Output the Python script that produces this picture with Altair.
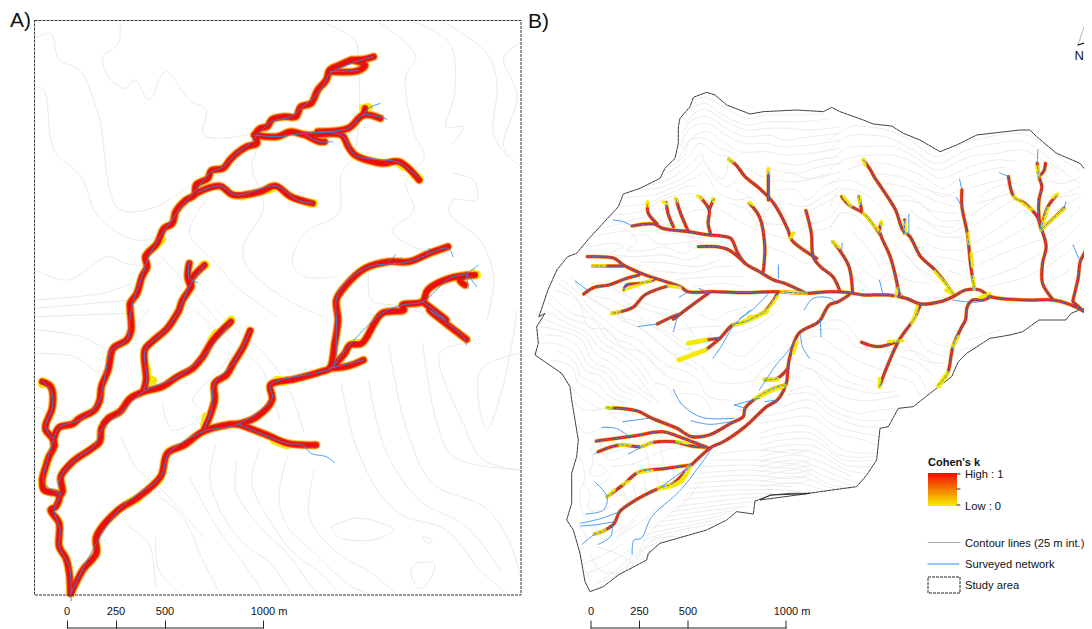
import altair as alt
import pandas as pd

def Z1(p): return [(x / 2.958, y / 3) for x, y in p]
def Z2(p): return [(x / 2.958, 310 + y / 3) for x, y in p]
def Z3(p): return [(530 + x / 2.79, y / 3) for x, y in p]
def Z4(p): return [(530 + x / 2.79, 310 + y / 3) for x, y in p]
def crop(ox, oy): return lambda p: [(ox + x / 3, oy + y / 3) for x, y in p]
R1, R2, R3, R4, R5 = crop(590, 90), crop(830, 120), crop(535, 270), crop(760, 320), crop(560, 440)

# ---------- Panel A: contour lines ----------
a_contours = [
 Z1([(105,115),(150,100),(175,180),(235,210),(290,340),(350,625),(450,625),(570,550)]),
 Z1([(105,260),(130,270),(160,450),(240,530),(290,650),(400,720),(470,710)]),
 Z1([(355,70),(350,130),(305,170),(320,230),(370,265),(400,240),(440,300),(490,215),(560,300),(610,330),(600,400),(640,415),(750,400)]),
 Z1([(950,65),(1050,120),(1060,180),(1060,390),(1040,480),(1010,520),(1000,640),(900,700),(865,790),(900,830),(990,830)]),
 Z1([(1120,65),(1230,170),(1200,230),(1225,400),(1255,470),(1200,550),(1225,630),(1160,695),(1290,760),(1330,740)]),
 Z1([(1220,65),(1330,130),(1345,280),(1320,380),(1370,380),(1340,430)]),
 Z1([(1310,65),(1440,160),(1470,250),(1460,400),(1500,470)]),
 Z1([(1540,130),(1490,170),(1530,290),(1490,440),(1540,500)]),
 Z1([(1340,520),(1400,540),(1410,600),(1340,600),(1330,640),(1420,720),(1460,830),(1440,960)]),
 Z1([(770,430),(745,500),(780,620),(720,740),(730,800),(850,900),(960,950)]),
 Z1([(610,600),(560,700),(640,790),(700,860),(820,950)]),
 Z1([(105,810),(200,840),(320,770),(370,790),(450,800)]),
 Z1([(105,900),(300,880),(390,850)]),
 Z1([(105,925),(390,900)]),
 Z1([(105,950),(380,940)]),
 Z1([(470,760),(530,830),(590,900),(640,960)]),
 Z1([(1090,820),(1100,900),(1200,920),(1290,960)]),
 Z2([(105,60),(240,80),(330,130)]),
 Z2([(105,130),(220,140),(290,185),(320,170)]),
 Z2([(105,290),(130,300),(140,330)]),
 Z2([(440,0),(410,40),(400,100)]),
 Z2([(580,0),(640,60),(700,110),(770,170),(800,250),(830,330)]),
 Z2([(640,0),(700,60),(790,140),(860,250),(900,370)]),
 Z2([(480,280),(510,360),(600,310),(570,270),(640,190),(690,130)]),
 Z2([(360,380),(400,470),(480,540),(600,680)]),
 Z2([(640,400),(620,500),(650,600),(720,700),(800,760),(860,850)]),
 Z2([(700,450),(700,550),(770,650),(850,730),(900,800),(940,850)]),
 Z2([(770,410),(745,520),(810,650),(860,720),(960,800),(1000,850)]),
 Z2([(850,440),(825,560),(850,650),(920,720),(1040,830),(1090,850)]),
 Z2([(930,480),(915,620),(1000,730),(1100,790),(1170,850)]),
 Z2([(470,560),(540,620),(600,750),(650,850)]),
 Z2([(560,500),(640,650),(720,760),(780,850)]),
 Z2([(460,680),(470,780),(530,850)]),
 Z2([(380,650),(440,700),(460,830)]),
 Z2([(1010,220),(1050,400),(1130,560),(1200,620),(1320,660),(1420,780),(1500,850)]),
 Z2([(1090,210),(1140,420),(1240,570),(1380,650),(1480,780)]),
 Z2([(1150,100),(1200,350),(1280,520),(1430,590),(1500,680),(1540,800)]),
 Z2([(1250,100),(1290,330),(1340,440),(1540,480)]),
 Z2([(1380,100),(1300,130),(1370,340),(1430,450),(1540,480)]),
 Z2([(1540,130),(1420,180),(1440,360),(1490,220),(1530,0)]),
 Z2([(980,650),(1050,625),(1130,640),(1165,660),(1100,690),(1000,680),(980,650)]),
 Z2([(1230,760),(1285,760),(1265,820),(1240,835),(1215,790),(1230,760)]),
 Z2([(1250,680),(1280,690),(1265,700),(1250,680)]),
]

# ---------- Panel A: modelled channels ----------
a_streams = [
 Z1([(1105,170),(1075,178),(1040,180),(1005,195),(975,210),(965,240),(940,270),(920,310),(890,320),(875,350),(840,350),(805,358),(790,380),(770,385),(755,405),(760,430),(730,440),(700,460),(680,480),(660,505),(625,512),(615,535),(580,555),(575,585),(550,600),(520,635),(510,670),(485,685),(465,730),(430,770),(435,800),(420,830),(405,880),(385,910)])
 + Z2([(385,0),(388,60),(375,90),(335,115),(320,180),(300,230),(295,270),(280,300),(235,325),(215,342),(175,352),(160,385),(160,410),(145,440),(135,470),(125,510),(130,540),(175,555),(165,590),(150,600),(175,640),(175,710),(195,745),(205,790),(208,850)]),
 Z2([(125,215),(150,230),(155,290),(135,345),(135,360),(155,385),(160,405)]),
 Z2([(683,35),(630,90),(600,140),(570,175),(525,200),(480,230),(425,245),(385,265),(355,305),(320,325),(300,355),(295,395),(265,420),(215,455),(180,500),(185,545),(175,560)]),
 Z1([(605,795),(565,840),(565,860),(540,900),(530,930)]) + Z2([(530,0),(495,55),(450,95),(428,120),(432,210),(425,240)]),
 Z1([(560,790),(555,830),(565,860)]),
 Z2([(740,62),(720,110),(690,160),(670,195),(635,220),(635,270),(620,320),(605,355)]),
 Z2([(210,850),(245,780),(285,730),(285,680),(350,600),(405,565),(475,500),(495,430),(545,405),(600,365),(680,343),(705,342),(760,320),(805,270),(800,225),(870,208),(950,185),(975,175),(990,100),(1000,30)])
 + Z1([(995,900),(1020,860),(1080,805),(1150,785),(1210,785),(1270,760),(1325,740)]),
 Z2([(975,175),(1030,168),(1075,150)]),
 Z2([(985,170),(1020,130),(1035,105),(1070,100),(1130,10),(1195,0)]) + Z1([(1190,915),(1250,905),(1265,870),(1330,835),(1405,825)]),
 Z1([(1250,905),(1320,960)]) + Z2([(1270,0),(1380,88)]),
 Z1([(1380,825),(1360,840),(1375,855)]),
 Z2([(705,342),(790,375),(850,400),(935,405)]),
 Z1([(752,405),(820,410),(860,395),(905,405),(1010,405),(1030,440),(1050,465),(1130,490),(1180,485),(1240,540)]),
 Z1([(905,405),(945,425),(960,425)]),
 Z1([(940,395),(1030,385),(1075,345),(1125,355)]),
 Z1([(1075,345),(1080,325)]),
 Z1([(975,215),(1060,212),(1080,195),(1040,180)]),
 Z1([(583,578),(650,558),(690,585),(770,575),(815,558),(860,590),(925,610)]),
]
a_yellow = [
 Z1([(478,718),(460,738)]), Z1([(1175,485),(1195,500)]), Z1([(1225,525),(1240,535)]), Z1([(915,610),(928,610)]),
 Z1([(600,795),(608,795)]), Z1([(790,570),(810,562)]), Z1([(690,585),(720,588)]), Z2([(683,30),(675,40)]),
 Z2([(640,70),(625,92)]), Z2([(432,170),(436,205)]), Z2([(440,210),(452,212)]), Z2([(138,455),(132,485)]), Z2([(125,520),(132,540)]),
 Z2([(475,500),(465,515)]), Z2([(385,575),(405,568)]), Z2([(610,320),(605,345)]), Z2([(1045,100),(1060,100)]), Z2([(820,210),(840,215)]),
 Z2([(810,390),(850,405)]), Z1([(1075,325),(1090,322)]), Z1([(1400,820),(1410,825)]), Z2([(130,215),(125,222)]),
]
a_blue = [
 Z1([(1105,170),(1040,190),(975,222),(960,250),(930,290),(890,325),(860,350),(805,365),(770,395),(740,430),(700,460),(660,500),(620,520),(580,570),(545,610),(515,650),(480,700),(440,770),(420,830),(395,900)])
 + Z2([(385,20),(375,90),(330,120),(310,200),(290,280),(235,330),(175,352),(155,400),(140,450),(130,520),(175,555),(160,600),(178,660),(175,710),(205,770),(210,875)]),
 Z2([(125,215),(150,240),(155,290),(135,350),(155,385)]),
 Z2([(683,35),(600,140),(525,200),(425,245),(355,310),(300,360),(280,405),(215,455),(175,510),(180,555)]),
 Z1([(560,785),(560,835),(585,848)]), Z1([(605,795),(565,850),(530,930)]) + Z2([(530,0),(495,55),(430,120),(435,210),(425,240)]),
 Z2([(740,62),(690,160),(635,220),(625,300),(605,355)]),
 Z2([(210,850),(285,700),(360,590),(475,500),(500,430),(600,365),(705,342),(805,265),(800,225),(950,185),(985,170),(995,50)]) + Z1([(1000,880),(1080,805),(1210,785),(1325,745),(1340,770)]),
 Z2([(975,175),(1075,150)]), Z2([(985,170),(1030,110),(1130,10)]) + Z1([(1190,915),(1250,905),(1330,835),(1380,820),(1415,795)]),
 Z1([(1380,820),(1410,860)]), Z1([(1380,825),(1385,865)]), Z1([(1270,745),(1265,760)]), Z1([(1170,765),(1150,785)]),
 Z1([(1250,905),(1320,960)]) + Z2([(1270,0),(1370,80),(1380,105)]),
 Z2([(705,342),(850,400),(895,405),(920,430),(965,440),(990,458)]),
 Z1([(752,405),(820,410),(905,400),(1010,405),(1050,465),(1180,488),(1240,535)]),
 Z1([(905,405),(945,425),(985,425)]),
 Z1([(940,395),(1030,385),(1075,345),(1145,358)]), Z1([(1075,345),(1090,325),(1125,310)]), Z1([(975,215),(1060,212)]),
 Z1([(583,578),(650,558),(700,585),(815,558),(880,600),(925,610)]),
]

# ---------- Panel B: study area outline ----------
b_outline = (
 Z3([(25,950),(50,870),(75,810),(105,770),(130,760),(165,715)])
 + R1([(85,350),(100,312),(150,295),(210,265),(225,235),(255,205),(265,160),(265,110),(270,85),(300,50),(310,22),(350,7),(375,15),(410,45),(480,72),(520,65),(620,60),(700,65),(725,52),(750,65)])
 + R2([(100,0),(130,12),(185,18),(220,40),(270,60),(330,95),(380,75),(440,45),(570,30),(600,30),(620,50),(680,100),(750,130),(790,180)])
)
b_outline2 = (
 Z4([(1600,-30),(1510,10),(1495,30),(1420,30),(1375,65)])
 + R4([(750,45),(690,55),(620,100),(595,125),(575,170),(510,220),(460,260),(415,265),(385,320),(360,325),(350,420),(320,465),(290,500),(130,522),(30,525),(0,540)])
 + R5([(750,160),(690,160),(635,165),(585,183),(580,222),(530,215),(500,240),(440,270),(300,310),(265,340),(260,360),(175,405),(130,440),(90,455),(75,425),(60,340),(40,270),(20,240),(35,190),(35,100),(50,50),(55,0)])
 + R3([(110,390),(105,350),(80,310),(0,255),(10,220),(5,170),(30,130)])
 + Z3([(25,950)])
)

# ---------- Panel B: contour lines ----------
b_contours = [
 R1([(310,30),(345,22),(400,50),(470,85),(530,75),(620,75),(700,72)]),
 R1([(295,60),(345,40),(390,70),(470,105),(530,95),(640,95),(720,85)]),
 R1([(285,100),(320,65),(350,60),(410,95),(470,120),(530,115),(590,115),(660,120),(750,110)]),
 R1([(275,130),(305,90),(350,80),(410,115),(465,140),(540,135),(580,150),(660,140),(750,130)]),
 R1([(272,170),(295,120),(350,100),(400,130),(460,160),(530,160),(570,170),(660,165),(750,150)]),
 R1([(265,210),(290,160),(345,125),(400,155),(450,185),(530,185),(580,195),(660,190),(750,175)]),
 R1([(240,230),(280,200),(300,150),(340,145),(385,170),(430,190)]),
 R1([(210,265),(260,230),(295,200),(330,160),(375,190),(420,200)]),
 R1([(180,285),(240,265),(300,225),(335,190),(345,220),(400,265),(415,215)]),
 R1([(150,300),(220,290),(310,245),(340,215),(370,260),(410,290),(440,270)]),
 R1([(110,320),(190,315),(310,265),(345,250),(380,305),(440,330),(480,320)]),
 R1([(90,350),(170,340),(290,290),(320,290)]),
 R1([(60,375),(150,365),(240,320),(310,310)]),
 R1([(20,420),(110,395),(170,380)]),
 R1([(560,215),(620,225),(680,210),(750,200)]),
 R1([(550,240),(620,250),(690,230),(750,220)]),
 R1([(560,270),(610,275),(700,260),(750,245)]),
 R1([(560,300),(620,300),(650,330),(700,290),(750,265)]),
 R1([(590,340),(640,350),(700,320),(750,290)]),
 R1([(620,390),(650,370),(700,340),(750,315)]),
 R1([(610,430),(650,410),(720,380),(750,340)]),
 R1([(680,420),(720,410),(750,370)]),
 R1([(440,300),(500,340),(480,370),(530,380)]),
 R1([(420,340),(470,360),(510,410),(525,350)]),
 R1([(380,350),(440,390),(500,420)]),
 R1([(290,370),(340,360),(355,410)]),
 R1([(530,400),(590,400),(560,340),(530,360)]),
 R1([(530,430),(600,450),(640,470)]),
 R1([(530,470),(590,490),(650,520),(670,490)]),
 R1([(10,440),(60,430),(120,425),(140,460),(110,480),(180,480),(220,470),(280,490),(320,470)]),
 R1([(0,470),(70,460),(100,470),(60,490),(130,500),(220,495),(300,510),(340,490)]),
 R1([(120,440),(170,435),(200,460),(260,460),(330,450)]),
 R1([(200,430),(250,430),(320,445)]),
 R1([(150,515),(240,520),(320,530),(390,510)]),
 R1([(190,540),(290,550),(390,530),(430,530)]),
 R1([(250,570),(370,560),(460,560)]),
 R1([(310,590),(400,580),(460,590)]),
 R1([(470,230),(520,260),(540,240)]),
 R1([(590,240),(650,265),(720,250)]),
 R2([(0,60),(60,20),(110,20),(170,30),(240,60),(320,110),(400,70),(480,50),(570,40),(620,60),(700,120),(750,150)]),
 R2([(0,90),(50,50),(120,45),(180,55),(250,90),(320,130),(410,90),(500,70),(580,65),(640,100),(700,150)]),
 R2([(0,120),(50,85),(120,80),(190,80),(260,115),(320,150),(420,110),(500,100),(580,90),(630,115),(690,170)]),
 R2([(0,150),(40,120),(130,105),(210,110),(270,140),(330,175),(420,140),(500,120),(560,125)]),
 R2([(50,150),(110,130),(160,130),(220,145),(280,170),(340,205),(390,170)]),
 R2([(130,160),(210,170),(280,200),(340,230),(400,200)]),
 R2([(0,190),(60,180),(95,195),(130,210)]),
 R2([(170,190),(240,205),(310,240),(375,260)]),
 R2([(180,230),(240,230),(300,270),(380,280)]),
 R2([(0,260),(30,210),(90,215),(150,260),(180,300),(220,270)]),
 R2([(0,330),(30,280),(80,290),(130,340),(150,300)]),
 R2([(240,270),(300,310),(370,320),(390,300)]),
 R2([(260,320),(330,350),(400,350)]),
 R2([(290,370),(340,390),(400,390)]),
 R2([(320,410),(380,420),(410,430)]),
 R2([(350,450),(410,470)]),
 R2([(190,370),(230,410),(290,470),(330,490)]),
 R2([(170,400),(210,470),(300,490)]),
 R2([(60,400),(90,440),(150,480),(170,460),(190,480)]),
 R2([(70,470),(120,510)]),
 R2([(430,280),(490,240),(540,190)]),
 R2([(430,320),(500,270),(550,240)]),
 R2([(430,370),(510,320),(580,270)]),
 R2([(430,400),(500,370),(610,310)]),
 R2([(440,440),(520,400),(630,360)]),
 R2([(450,480),(540,450),(630,400)]),
 R2([(470,500),(560,480),(630,450)]),
 R2([(410,170),(470,150),(530,140)]),
 R2([(400,210),(470,190),(545,170)]),
 R2([(650,340),(700,310),(750,260)]),
 R2([(650,390),(700,360),(750,310)]),
 R2([(650,440),(720,390),(750,360)]),
 R2([(650,490),(720,450)]),
 R2([(640,180),(700,190),(750,170)]),
 R2([(660,130),(720,170),(750,190)]),
 R2([(690,230),(750,200)]),
 R2([(450,230),(500,200),(560,190)]),
 R2([(440,250),(510,230),(560,210)]),
 R2([(640,230),(700,230),(750,220)]),
 R2([(640,290),(700,260),(750,230)]),
 R2([(250,200),(310,215),(370,230)]),
 R2([(210,240),(270,250),(330,300),(390,300)]),
 R2([(280,300),(350,340),(400,320)]),
 R2([(240,350),(290,400),(340,440)]),
 R2([(220,390),(260,440),(310,470)]),
 R2([(60,330),(110,380),(150,440)]),
 R3([(60,60),(130,95),(160,170),(220,180),(260,230),(330,250),(370,300),(420,330),(470,340)]),
 R3([(55,80),(110,130),(175,150),(215,205),(270,240),(310,270),(350,330)]),
 R3([(30,120),(95,160),(160,190),(190,230),(240,260),(290,300),(330,350),(360,385)]),
 R3([(15,170),(70,180),(140,210),(170,270),(225,300),(260,340),(310,370),(350,400)]),
 R3([(10,220),(60,220),(120,250),(150,300),(200,320),(240,370),(290,390)]),
 R3([(50,270),(110,290),(130,340),(170,360),(210,390),(260,415)]),
 R3([(90,330),(115,360),(150,390),(200,420)]),
 R3([(110,390),(150,420),(210,415)]),
 R3([(130,460),(150,490),(210,470)]),
 R3([(80,30),(120,60),(170,120),(210,150),(260,190),(310,210),(360,260),(410,290)]),
 R3([(110,20),(150,70),(210,110),(260,150),(310,170),(370,220),(410,250),(460,290)]),
 R3([(180,80),(230,90),(300,130),(340,160),(400,200),(440,230),(500,250)]),
 R3([(260,90),(310,110),(370,130),(440,150),(480,200),(500,220)]),
 R3([(230,130),(290,150),(360,170),(420,200),(470,240)]),
 R3([(420,250),(470,270),(510,300),(530,330),(600,340),(660,330)]),
 R3([(390,290),(440,300),(490,330),(520,380),(590,390)]),
 R3([(360,340),(400,350),(420,390),(470,420)]),
 R3([(440,370),(500,380),(530,420)]),
 R3([(490,130),(540,150),(570,130),(640,110)]),
 R3([(430,180),(500,170),(580,170)]),
 R3([(530,190),(490,220),(450,240)]),
 R3([(550,270),(600,300),(660,280),(720,220)]),
 R3([(560,230),(620,260),(680,210),(740,160)]),
 R3([(600,190),(660,170),(720,130)]),
 R3([(650,350),(680,300),(740,260)]),
 R3([(600,420),(660,420)]),
 R3([(230,440),(290,470)]),
 R3([(200,555),(290,530)]),
 R3([(230,590),(300,580),(390,540),(470,530)]),
 R3([(70,40),(120,80),(160,130),(200,165),(240,205),(290,225),(340,270),(390,310)]),
 R3([(40,100),(100,145),(165,170),(200,215),(255,250),(300,285),(340,340)]),
 R3([(20,145),(85,170),(150,200),(180,250),(230,280),(275,320),(320,360),(370,395)]),
 R3([(30,195),(80,200),(130,230),(160,285),(215,310),(250,355),(300,380)]),
 R3([(70,245),(115,270),(140,320),(185,340),(225,380),(275,400)]),
 R3([(120,40),(170,90),(235,125),(285,160),(340,190),(390,235),(440,270),(490,300)]),
 R3([(200,40),(260,70),(330,100),(400,120),(460,140)]),
 R4([(130,60),(180,50),(230,85),(290,120),(340,140),(370,150)]),
 R4([(150,95),(210,110),(270,160),(340,185)]),
 R4([(100,130),(160,150),(220,190),(290,210),(330,220),(400,215)]),
 R4([(85,180),(150,145),(215,215),(290,240),(350,240),(420,225)]),
 R4([(90,215),(150,200),(215,250),(290,280),(360,270),(430,265)]),
 R4([(70,260),(150,240),(220,290),(310,320),(360,320)]),
 R4([(0,310),(60,300),(150,290),(230,340),(310,360),(355,380)]),
 R4([(0,340),(70,320),(150,320),(250,390),(350,400)]),
 R4([(0,375),(70,360),(160,360),(250,420),(340,420)]),
 R4([(0,410),(100,390),(170,400),(260,450),(320,460)]),
 R4([(0,440),(110,420),(190,450),(290,490)]),
 R4([(0,470),(120,450),(200,490),(270,505)]),
 R4([(0,500),(120,490),(200,515)]),
 R4([(170,30),(240,30),(290,80),(330,90)]),
 R4([(190,10),(240,0),(300,60),(320,70)]),
 R4([(420,110),(480,130),(520,170)]),
 R4([(410,130),(470,160),(500,210)]),
 R4([(400,170),(460,190),(480,230)]),
 R4([(460,30),(500,90),(560,110)]),
 R4([(440,70),(490,120),(550,130)]),
 R4([(620,60),(660,50),(720,30)]),
 R4([(600,90),(650,80)]),
 R4([(120,100),(185,130),(245,175),(310,200)]),
 R4([(60,230),(150,220),(215,270),(300,300),(380,300)]),
 R4([(0,290),(60,280),(150,265),(220,315),(310,340),(365,350)]),
 R4([(0,355),(70,340),(155,340),(240,405),(345,410)]),
 R4([(0,390),(85,375),(165,380),(255,435),(330,440)]),
 R4([(0,425),(105,405),(180,425),(275,470)]),
 R4([(0,455),(115,435),(195,470),(280,498)]),
 R4([(0,485),(120,470),(200,500),(240,510)]),
 R4([(510,60),(560,80),(590,60)]),
 R4([(430,90),(480,100),(530,140)]),
 R5([(60,50),(75,110),(60,160),(70,220),(90,240)]),
 R5([(90,20),(100,60),(90,100),(110,110),(140,90),(110,70)]),
 R5([(120,0),(130,40),(150,60),(190,50)]),
 R5([(60,260),(80,300),(60,340),(90,420)]),
 R5([(90,340),(120,390),(170,400)]),
 R5([(80,400),(130,380),(210,330)]),
 R5([(110,320),(170,340),(220,370)]),
 R5([(150,320),(190,280),(250,240),(310,190)]),
 R5([(170,290),(230,240)]),
 R5([(480,40),(600,30),(700,40),(750,30)]),
 R5([(450,60),(580,60),(700,70),(750,60)]),
 R5([(420,100),(560,90),(700,100),(750,90)]),
 R5([(400,130),(560,120),(700,130),(750,120)]),
 R5([(380,160),(530,150),(680,150),(720,155)]),
 R5([(350,200),(500,180),(610,170)]),
 R5([(320,230),(460,210),(560,200)]),
 R5([(280,260),(420,240),(510,220)]),
 R5([(250,300),(360,270),(470,250)]),
 R5([(230,360),(280,300),(380,290)]),
 R5([(170,400),(230,350),(260,290),(320,230),(380,180),(420,130)]),
 R5([(250,110),(260,160)]), R5([(290,100),(300,150)]), R5([(340,90),(340,130)]), R5([(220,130),(230,180)]), R5([(190,150),(200,190)]),
 R5([(250,10),(265,60),(270,90)]), R5([(300,10),(310,60),(320,90)]),
 R5([(70,130),(90,160),(85,210),(120,210)]),
 R5([(100,140),(130,130),(150,110)]),
 R5([(130,210),(170,190)]),
 R5([(130,300),(180,270),(240,220)]),
 R5([(70,370),(120,350),(190,310)]),
 R5([(110,430),(160,410),(240,360),(300,320)]),
 R5([(130,420),(180,380),(230,340),(350,280)]),
 R5([(430,80),(570,75),(700,85),(750,75)]),
 R5([(410,115),(560,105),(700,115),(750,105)]),
 R5([(390,145),(540,135),(690,140)]),
 R5([(365,180),(510,165),(640,160)]),
 R5([(335,215),(480,195),(590,185)]),
 R5([(300,245),(440,225),(530,210)]),
 R5([(265,280),(390,255),(490,235)]),
]

# ---------- Panel B: modelled channels ----------
b_streams = [
 Z3([(1555,940),(1510,915),(1460,900),(1385,900),(1285,890),(1255,870),(1215,870),(1180,890),(1145,905),(1090,912),(1050,895),(1000,885),(930,885),(890,878),(840,875),(770,880),(690,875),(600,878),(510,875),(440,875),(420,860),(340,832),(310,820),(260,795),(235,775),(160,770)]),
 Z3([(305,825),(270,835),(220,855),(180,862),(150,882)]),
 Z3([(260,798),(175,798)]),
 Z3([(345,840),(310,850),(270,855),(262,870)]),
 Z3([(385,858),(320,885),(290,920),(270,930),(230,940)]),
 Z3([(770,880),(710,850),(680,840),(640,815),(600,790),(580,760),(560,715),(535,708),(500,705),(440,695),(370,685),(345,672),(285,678)]),
 Z3([(355,672),(330,640),(328,610)]),
 Z3([(400,680),(385,640),(380,607)]),
 Z3([(440,690),(420,640),(408,598)]),
 Z3([(505,705),(497,670),(500,630),(475,592)]),
 Z3([(500,630),(512,598)]),
 Z3([(600,790),(555,750),(520,740),(470,740)]),
 Z3([(650,820),(655,740),(640,650),(612,610)]),
 Z3([(800,775),(730,720),(720,690),(680,610),(640,565),(600,530),(575,495),(555,478)]),
 Z3([(665,600),(665,510)]),
 Z3([(865,875),(845,830),(810,800),(790,770),(785,700),(770,632)]),
 Z3([(900,878),(890,800),(860,745),(845,725)]),
 Z3([(1030,885),(1020,830),(1005,770),(980,710),(975,690),(980,670)]),
 Z3([(975,700),(930,640),(890,615),(870,590)]),
 Z3([(925,630),(918,590)]),
 Z3([(1180,880),(1130,810),(1090,770),(1060,710),(1040,690),(1020,630),(985,570),(960,530),(950,510),(930,480)]),
 Z3([(1045,700),(1045,660)]),
 Z3([(1240,865),(1230,800),(1220,700),(1205,620),(1205,570)]),
 Z3([(1460,900),(1430,850),(1430,790),(1440,740),(1425,680),(1415,650),(1380,610),(1350,590),(1335,530)]),
 Z3([(1425,685),(1420,650),(1420,600),(1428,560),(1420,530),(1415,490)]),
 Z3([(1420,530),(1435,510),(1438,490)]),
 Z3([(1425,690),(1445,620),(1470,585)]),
 Z3([(1430,685),(1490,625)]),
 Z3([(1515,900),(1530,830),(1535,785),(1550,750),(1560,640)]),
 Z3([(1550,745),(1568,710)]),
 Z3([(1515,905),(1540,930)]),
 Z3([(1090,912),(1070,960)]) + Z4([(1060,45),(1030,90),(1000,160),(975,230)]),
 Z4([(1030,92),(970,110),(925,97)]),
 Z3([(1285,890),(1265,900),(1235,900),(1220,920),(1215,960)]) + Z4([(1205,50),(1180,110),(1165,190),(1140,225)]),
 Z3([(890,885),(860,905),(835,915),(810,960)]) + Z4([(800,40),(750,70),(725,140),(720,170),(715,220),(690,270),(660,290),(600,350),(540,395),(505,412),(490,425),(450,465),(400,520),(360,535),(280,580),(250,605),(235,640),(210,660),(180,672)]),
 Z4([(720,175),(690,205),(655,210)]),
 Z4([(710,225),(680,235),(630,265),(600,295),(595,320),(560,340),(500,375),(450,380),(410,355),(340,325),(300,303),(215,293)]),
 Z4([(490,410),(440,390),(410,378),(370,365),(290,378),(185,393)]),
 Z4([(495,412),(450,408),(400,395),(340,398),(310,410),(250,405),(190,425)]),
 Z4([(450,465),(380,475),(300,488),(265,520),(215,560)]),
 Z3([(500,878),(440,925),(400,958)]) + Z4([(420,10),(355,42)]),
 Z3([(690,880),(680,900),(655,935)]) + Z4([(655,5),(600,35),(565,45),(530,85),(490,120)]),
 Z4([(530,85),(490,90)]),
]
b_yellow = [
 Z3([(555,478),(565,485)]), Z3([(665,505),(665,520)]), Z3([(328,605),(328,618)]), Z3([(372,606),(382,612)]), Z3([(405,595),(410,603)]),
 Z3([(468,588),(478,596)]), Z3([(510,596),(512,604)]), Z3([(612,608),(620,614)]), Z3([(875,590),(895,618)]), Z3([(920,590),(920,612)]),
 Z3([(930,640),(975,695)]), Z3([(980,665),(980,675)]), Z3([(930,478),(935,495)]), Z3([(845,725),(862,742)]), Z3([(1045,665),(1048,700)]),
 Z3([(1130,815),(1180,878)]), Z3([(1230,760),(1235,800)]), Z3([(1236,830),(1240,868)]), Z3([(1222,700),(1225,730)]), Z3([(1425,690),(1445,625)]),
 Z3([(1430,685),(1490,628)]), Z3([(1460,592),(1472,582)]), Z3([(1555,700),(1550,750)]), Z3([(1415,500),(1420,530)]), Z3([(1350,590),(1400,630)]),
 Z3([(262,870),(340,840)]), Z3([(175,798),(210,797)]), Z3([(385,858),(420,862)]), Z3([(227,942),(250,934)]), Z3([(700,875),(770,880)]),
 Z3([(1020,890),(1025,865)]), Z3([(1255,892),(1282,880)]), Z3([(1160,870),(1175,880)]), Z3([(1080,920),(1072,960)]),
 Z3([(690,890),(650,940),(610,950)]), Z3([(725,715),(735,700)]),
 Z4([(1080,0),(1065,40)]), Z4([(1040,92),(1000,95)]), Z4([(975,205),(975,232)]),
 Z4([(1180,110),(1195,80)]), Z4([(735,130),(745,95)]),
 Z4([(215,560),(235,540)]), Z4([(260,522),(275,515)]),
 Z4([(300,488),(340,482)]), Z4([(440,400),(410,395)]), Z4([(340,398),(310,410)]), Z4([(250,405),(280,405)]), Z4([(210,660),(180,672)]), Z4([(228,292),(214,292)]),
]
b_yellow_wide = [
 Z4([(1165,190),(1140,228)]), Z4([(660,5),(610,30),(570,45)]), Z4([(490,120),(415,150)]), Z4([(490,90),(442,100)]),
 Z4([(655,208),(690,208)]), Z4([(710,228),(680,238),(630,265)]), Z4([(445,470),(420,515),(360,535)]),
]
b_blue_only = [
 Z3([(435,880),(415,892)]), Z3([(500,878),(470,865)]), Z3([(160,870),(125,842)]), Z3([(285,678),(260,665),(232,660)]), Z3([(270,855),(258,875)]),
 Z3([(665,880),(620,930),(585,955)]), Z3([(985,885),(975,840)]), Z3([(1045,892),(1020,860)]), Z3([(850,905),(840,895),(790,895),(765,930)]),
 Z3([(693,835),(693,795)]), Z3([(870,750),(871,730)]), Z3([(1057,700),(1057,640)]), Z3([(1205,570),(1198,535)]), Z3([(1205,620),(1190,592)]),
 Z3([(1335,530),(1310,518)]), Z3([(1415,490),(1417,450)]), Z3([(1490,625),(1495,605)]), Z3([(1535,785),(1515,735)]),
 Z3([(918,590),(918,585)]), Z3([(1180,900),(1255,905),(1282,885)]),
 Z4([(615,0),(570,45),(530,115),(510,145)]), Z4([(810,30),(812,80)]), Z4([(740,90),(715,130),(690,160),(640,240)]), Z4([(755,75),(760,110),(780,145)]),
 Z4([(400,238),(425,285),(480,322),(570,325)]), Z4([(600,295),(570,285)]), Z4([(450,332),(500,343),(560,335)]), Z4([(330,325),(260,335)]),
 Z4([(200,352),(240,355),(275,378)]), Z4([(510,412),(420,540),(340,620),(310,685),(290,690),(285,735)]), Z4([(450,465),(360,535)]),
 Z4([(180,515),(215,560),(205,600),(155,612)]), Z4([(250,605),(200,625),(140,640)]), Z4([(235,635),(180,645),(140,648)]), Z4([(230,645),(225,680),(190,703)]),
 Z4([(180,672),(145,703)]), Z4([(690,270),(655,275)]), Z4([(640,265),(570,285)]), Z4([(355,42),(300,50)]), Z4([(410,25),(400,65)]), Z4([(185,393),(182,398)]), Z4([(190,425),(180,432)]), Z4([(310,412),(275,432)]),
]

# ---------- Scale bars ----------
scale_a_x = [67.5, 116.5, 165.5, 263.5]
scale_b_x = [591, 639.5, 688, 786]
scale_labels = ["0", "250", "500", "1000 m"]
scale_label_x_a = [67, 116, 165, 269]
scale_label_x_b = [591, 639.5, 688, 792]
scale_top, scale_base, scale_label_y = 621, 628, 615

# ---------- Frame, legend, panel letters ----------
frame_a = dict(x=34.5, x2=521, y=20.5, y2=595)
legend_ramp = dict(x=928, x2=957, y=473, y2=506)
ramp_ticks_y = [474, 489, 505]
study_box = dict(x=928, x2=960, y=577, y2=593)
legend_texts = [
 ("High : 1", 965, 478), ("Low : 0", 965, 510),
 ("Contour lines (25 m int.)", 965, 547), ("Surveyed network", 965, 568), ("Study area", 965, 589),
]
arrow_grey = [(1088, 15), (1078, 45)]
arrow_black = [(1078, 45), (1084, 43), (1092, 42)]

def table(lines):
    rows = []
    for k, line in enumerate(lines):
        for i, (x, y) in enumerate(line):
            rows.append(dict(k=k, i=i, x=x, y=y))
    return pd.DataFrame(rows)

X = alt.X("x:Q", scale=alt.Scale(domain=[8, 1084], nice=False, zero=False), axis=None)
Y = alt.Y("y:Q", scale=alt.Scale(domain=[629, 8], nice=False, zero=False), axis=None)
X2 = alt.X2("x2:Q")
Y2 = alt.Y2("y2:Q")

def lines(data, smooth=True, **mk):
    if smooth:
        mk["interpolate"] = "catmull-rom"
    return alt.Chart(table(data)).mark_line(clip=True, strokeCap="round", strokeJoin="round", **mk).encode(
        x=X, y=Y, detail="k:N", order="i:Q")

FONT = "Liberation Sans"
def texts(rows, size, **mk):
    df = pd.DataFrame(rows, columns=["t", "x", "y"])
    return alt.Chart(df).mark_text(align="left", baseline="alphabetic", font=FONT, fontSize=size, color="#111111", **mk).encode(
        x=X, y=Y, text="t:N")

BLUE = "#2b8cf2"
GREY = "#e6e6e6"
layers = [
 lines(a_contours, color=GREY, strokeWidth=0.9),
 lines(b_contours, color=GREY, strokeWidth=0.8),
 lines([b_outline, b_outline2], smooth=False, color="#222222", strokeWidth=0.9, strokeDash=[3, 1]),
 lines(a_streams, color="#f7b41a", strokeWidth=8.8, opacity=0.85),
 lines(a_yellow, color="#f6e800", strokeWidth=8.8),
 lines(a_streams, color="#f0480c", strokeWidth=6.8),
 lines(a_streams, color="#e8100c", strokeWidth=5),
 lines(a_blue, color=BLUE, strokeWidth=0.9, strokeDash=[3, 1]),
 lines(b_streams, color="#f6a510", strokeWidth=3.8),
 lines(b_streams, color="#df1c1c", strokeWidth=2.7),
 lines(b_yellow, color="#f6e800", strokeWidth=3.4),
 lines(b_yellow_wide, color="#f6e800", strokeWidth=4.8),
 lines(b_streams, color="#2f86e0", strokeWidth=1, strokeDash=[3, 2]),
 lines(b_blue_only, color=BLUE, strokeWidth=0.9, strokeDash=[3, 1]),
 alt.Chart(pd.DataFrame([frame_a])).mark_rect(fillOpacity=0, stroke="#333333", strokeWidth=1, strokeDash=[3, 1]).encode(x=X, x2=X2, y=Y, y2=Y2),
 lines([[(scale_a_x[0], scale_base), (scale_a_x[-1], scale_base)]] + [[(v, scale_top), (v, scale_base)] for v in scale_a_x], smooth=False, color="#222222", strokeWidth=1),
 lines([[(scale_b_x[0], scale_base), (scale_b_x[-1], scale_base)]] + [[(v, scale_top), (v, scale_base)] for v in scale_b_x], smooth=False, color="#222222", strokeWidth=1),
 alt.Chart(pd.DataFrame({"t": scale_labels * 2, "x": scale_label_x_a + scale_label_x_b, "y": [scale_label_y] * 8})).mark_text(
     align="center", baseline="alphabetic", font=FONT, fontSize=11, color="#111111").encode(x=X, y=Y, text="t:N"),
 alt.Chart(pd.DataFrame([legend_ramp])).mark_rect(color=alt.Gradient(gradient="linear", x1=0, x2=0, y1=0, y2=1,
     stops=[alt.GradientStop(offset=0, color="#f20a00"), alt.GradientStop(offset=1, color="#f8f000")])).encode(x=X, x2=X2, y=Y, y2=Y2),
 lines([[(957, v), (960, v)] for v in ramp_ticks_y], smooth=False, color="#222222", strokeWidth=1),
 lines([[(928, 542.5), (960, 542.5)]], smooth=False, color="#b0b0b0", strokeWidth=1),
 lines([[(928, 564), (960, 564)]], smooth=False, color=BLUE, strokeWidth=1, strokeDash=[3, 1]),
 alt.Chart(pd.DataFrame([study_box])).mark_rect(fillOpacity=0, stroke="#222222", strokeWidth=1, strokeDash=[3, 1]).encode(x=X, x2=X2, y=Y, y2=Y2),
 texts([("Cohen's k", 928, 466)], 11, fontWeight="bold"),
 texts(legend_texts, 11.2),
 texts([("A)", 10, 27), ("B)", 528, 28)], 21),
 texts([("N", 1074.5, 60)], 13),
 lines([arrow_grey], smooth=False, color="#bbbbbb", strokeWidth=1),
 lines([arrow_black], smooth=False, color="#111111", strokeWidth=1.3),
]

chart = alt.layer(*layers).properties(
    width=1076, height=621, padding=0, autosize=alt.AutoSizeParams(type="none"), background="white"
).configure_view(stroke=None)
chart.save("out.html", embed_options={"renderer": "svg", "actions": False})
